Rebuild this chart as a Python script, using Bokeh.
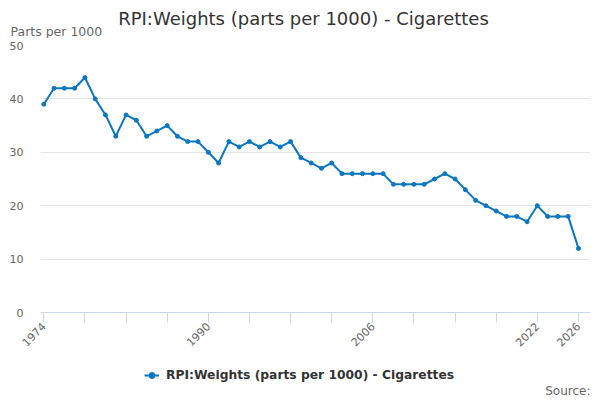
import math
from bokeh.plotting import figure
from bokeh.layouts import column
from bokeh.models import FixedTicker, Legend, LegendItem, Range1d, ColumnDataSource, Label
from bokeh.embed import file_html
from bokeh.resources import INLINE

# ---- data ----
years = list(range(1974, 2027))
weights = [39, 42, 42, 42, 44, 40, 37, 33, 37, 36,
           33, 34, 35, 33, 32, 32, 30, 28, 32, 31,
           32, 31, 32, 31, 32, 29, 28, 27, 28, 26,
           26, 26, 26, 26, 24, 24, 24, 24, 25, 26,
           25, 23, 21, 20, 19, 18, 18, 17, 20, 18,
           18, 18, 12]
tick_years = list(range(1974, 2027, 4))
labelled_years = [1974, 1990, 2006, 2022, 2026]
y_ticks = [0, 10, 20, 30, 40, 50]
title_text = "RPI:Weights (parts per 1000) - Cigarettes"
series_name = "RPI:Weights (parts per 1000) - Cigarettes"
y_title = "Parts per 1000"
source_text = "Source:"

# ---- layout ----
W = 600
TOP_H, MAIN_H, BOT_H = 38, 322, 40
FONT = "DejaVu Sans"
BLUE = "#0b77c2"

src = ColumnDataSource(data=dict(year=years, weight=weights))


def blank_fig(h):
    f = figure(width=W, height=h, output_backend="svg", toolbar_location=None,
               title=None, x_range=Range1d(0, W), y_range=Range1d(h, 0),
               x_axis_location=None, y_axis_location=None,
               min_border_left=0, min_border_right=0,
               min_border_top=0, min_border_bottom=0,
               frame_align=False)
    f.grid.visible = False
    f.outline_line_color = None
    f.background_fill_color = "white"
    f.border_fill_color = "white"
    return f


# ---- top: title + y-axis title ----
top = blank_fig(TOP_H)
top.add_layout(Label(x=303, y=18, text=title_text, text_align="center",
                     text_baseline="middle", text_font=FONT,
                     text_font_size="18px", text_color="#333333"))
top.add_layout(Label(x=10, y=31, text=y_title, text_align="left",
                     text_baseline="middle", text_font=FONT,
                     text_font_size="12.5px", text_color="#666666"))

# ---- main chart ----
p = figure(width=W, height=MAIN_H, output_backend="svg", toolbar_location=None,
           title=None,
           x_range=Range1d(1973.68, 2027.17), y_range=Range1d(0, 50),
           min_border_left=40, min_border_right=10,
           min_border_top=7, min_border_bottom=48,
           frame_align=False)
p.outline_line_color = None
p.background_fill_color = "white"
p.border_fill_color = "white"

p.yaxis.ticker = FixedTicker(ticks=y_ticks)
p.yaxis.axis_line_color = None
p.yaxis.major_tick_line_color = None
p.yaxis.minor_tick_line_color = None
p.yaxis.major_label_text_color = "#666666"
p.yaxis.major_label_text_font = FONT
p.yaxis.major_label_text_font_size = "11px"
p.yaxis.major_label_standoff = 11

p.xaxis.ticker = FixedTicker(ticks=tick_years)
p.xaxis.major_label_overrides = {y: ("" if y not in labelled_years else str(y)) for y in tick_years}
p.xaxis.major_label_orientation = math.pi / 4
p.xaxis.axis_line_color = "#ccd6eb"
p.xaxis.major_tick_line_color = "#ccd6eb"
p.xaxis.major_tick_out = 10
p.xaxis.major_tick_in = 0
p.xaxis.minor_tick_line_color = None
p.xaxis.major_label_text_color = "#666666"
p.xaxis.major_label_text_font = FONT
p.xaxis.major_label_text_font_size = "11px"
p.xaxis.major_label_standoff = 2

p.xgrid.visible = False
p.ygrid.grid_line_color = "#e6e6e6"

p.line("year", "weight", source=src, line_color=BLUE, line_width=2)
p.scatter("year", "weight", source=src, size=4, fill_color=BLUE, line_color=BLUE)

# ---- bottom: legend + source ----
bot = blank_fig(BOT_H)
bl = bot.line("year", "weight", source=src, line_color=BLUE, line_width=2)
bs = bot.scatter("year", "weight", source=src, size=3.5, fill_color=BLUE, line_color=BLUE)
legend = Legend(items=[LegendItem(label=series_name, renderers=[bl, bs])],
                location=(144, 17), orientation="horizontal",
                background_fill_alpha=0, border_line_color=None,
                label_text_font=FONT, label_text_font_style="bold",
                label_text_font_size="12.3px", label_text_color="#333333",
                glyph_width=15, glyph_height=16, label_standoff=7,
                padding=0, margin=0, spacing=0)
bot.add_layout(legend, "center")
bot.add_layout(Label(x=590, y=30, text=source_text, text_align="right",
                     text_baseline="middle", text_font=FONT,
                     text_font_size="12px", text_color="#666666"))

layout = column(top, p, bot, spacing=0)
open("out.html", "w").write(file_html(layout, INLINE))
